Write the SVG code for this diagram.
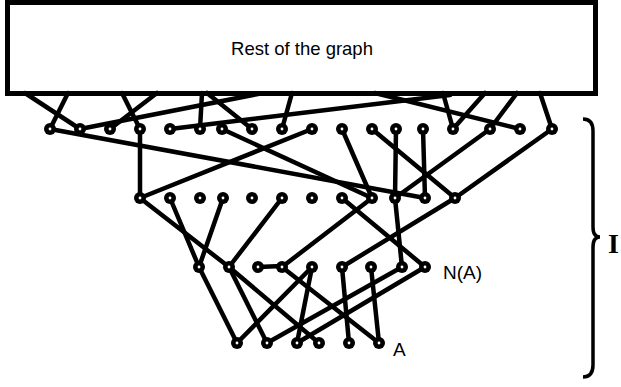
<svg xmlns="http://www.w3.org/2000/svg" width="621" height="387" viewBox="0 0 621 387">
<style>
.e{stroke:#000;stroke-width:4.5;stroke-linecap:round;fill:none}
.n{fill:#000}
.h{fill:#fff}
.lbl{font-family:"Liberation Sans",Arial,sans-serif;fill:#000}
</style>
<defs>
<g id="dot"><circle r="6" class="n"/><circle r="1.4" class="h"/></g>
</defs>
<rect id="rest" x="7.5" y="2.5" width="588" height="91" fill="#fff" stroke="#000" stroke-width="5"/>
<text class="lbl" x="302" y="55" font-size="18.5" text-anchor="middle">Rest of the graph</text>
<g id="connectors">
<line class="e" x1="25" y1="93" x2="80" y2="129"/>
<line class="e" x1="68" y1="93" x2="50" y2="129"/>
<line class="e" x1="122" y1="93" x2="140" y2="129"/>
<line class="e" x1="157" y1="93" x2="110" y2="129"/>
<line class="e" x1="202" y1="93" x2="200" y2="129"/>
<line class="e" x1="207" y1="93" x2="252" y2="129"/>
<line class="e" x1="292" y1="93" x2="282" y2="129"/>
<line class="e" x1="375" y1="93" x2="520" y2="129"/>
<line class="e" x1="443" y1="93" x2="453" y2="129"/>
<line class="e" x1="485" y1="93" x2="453" y2="129"/>
<line class="e" x1="517" y1="93" x2="490" y2="129"/>
<line class="e" x1="540" y1="93" x2="552" y2="129"/>
<line class="e" x1="80" y1="129" x2="258" y2="94"/>
<line class="e" x1="170" y1="129" x2="450" y2="95"/>
<line class="e" x1="50" y1="129" x2="425" y2="198"/>
<line class="e" x1="140" y1="129" x2="140" y2="198"/>
<line class="e" x1="222" y1="129" x2="372" y2="198"/>
<line class="e" x1="312" y1="129" x2="140" y2="198"/>
<line class="e" x1="342" y1="129" x2="372" y2="198"/>
<line class="e" x1="372" y1="129" x2="455" y2="198"/>
<line class="e" x1="396" y1="129" x2="395" y2="198"/>
<line class="e" x1="423" y1="129" x2="425" y2="198"/>
<line class="e" x1="490" y1="129" x2="395" y2="198"/>
<line class="e" x1="552" y1="129" x2="455" y2="198"/>
<line class="e" x1="140" y1="198" x2="229" y2="267"/>
<line class="e" x1="170" y1="198" x2="199" y2="267"/>
<line class="e" x1="223" y1="198" x2="199" y2="267"/>
<line class="e" x1="282" y1="198" x2="229" y2="267"/>
<line class="e" x1="342" y1="198" x2="425" y2="267"/>
<line class="e" x1="372" y1="198" x2="282" y2="267"/>
<line class="e" x1="395" y1="198" x2="402" y2="267"/>
<line class="e" x1="455" y1="198" x2="342" y2="267"/>
<line class="e" x1="258" y1="267" x2="282" y2="266"/>
<line class="e" x1="199" y1="267" x2="237" y2="343"/>
<line class="e" x1="229" y1="267" x2="267" y2="343"/>
<line class="e" x1="229" y1="267" x2="319" y2="343"/>
<line class="e" x1="282" y1="267" x2="379" y2="343"/>
<line class="e" x1="312" y1="267" x2="297" y2="343"/>
<line class="e" x1="342" y1="267" x2="349" y2="343"/>
<line class="e" x1="371" y1="267" x2="379" y2="343"/>
<line class="e" x1="402" y1="267" x2="267" y2="343"/>
<line class="e" x1="425" y1="267" x2="297" y2="343"/>
<line class="e" x1="312" y1="267" x2="237" y2="343"/>
</g>
<g id="row1">
<use href="#dot" x="50" y="129"/><use href="#dot" x="80" y="129"/><use href="#dot" x="110" y="129"/><use href="#dot" x="140" y="129"/><use href="#dot" x="170" y="129"/><use href="#dot" x="200" y="129"/><use href="#dot" x="222" y="129"/><use href="#dot" x="252" y="129"/><use href="#dot" x="282" y="129"/><use href="#dot" x="312" y="129"/><use href="#dot" x="342" y="129"/><use href="#dot" x="372" y="129"/><use href="#dot" x="396" y="129"/><use href="#dot" x="423" y="129"/><use href="#dot" x="453" y="129"/><use href="#dot" x="490" y="129"/><use href="#dot" x="520" y="129"/><use href="#dot" x="552" y="129"/>
</g>
<g id="row2">
<use href="#dot" x="140" y="198"/><use href="#dot" x="170" y="198"/><use href="#dot" x="200" y="198"/><use href="#dot" x="223" y="198"/><use href="#dot" x="252" y="198"/><use href="#dot" x="282" y="198"/><use href="#dot" x="312" y="198"/><use href="#dot" x="342" y="198"/><use href="#dot" x="372" y="198"/><use href="#dot" x="395" y="198"/><use href="#dot" x="425" y="198"/><use href="#dot" x="455" y="198"/>
</g>
<g id="row3">
<use href="#dot" x="199" y="267"/><use href="#dot" x="229" y="267"/><use href="#dot" x="258" y="267"/><use href="#dot" x="282" y="267"/><use href="#dot" x="312" y="267"/><use href="#dot" x="342" y="267"/><use href="#dot" x="371" y="267"/><use href="#dot" x="402" y="267"/><use href="#dot" x="425" y="267"/>
</g>
<g id="row4">
<use href="#dot" x="237" y="343"/><use href="#dot" x="267" y="343"/><use href="#dot" x="297" y="343"/><use href="#dot" x="319" y="343"/><use href="#dot" x="349" y="343"/><use href="#dot" x="379" y="343"/>
</g>
<g id="labels">
<text class="lbl" x="443" y="279" font-size="19">N(A)</text>
<text class="lbl" x="393" y="356" font-size="19">A</text>
</g>
<g id="brace">
<path d="M583,119 Q593,119 593,131 L593,227 Q593,237 600,237 Q593,237 593,247 L593,365 Q593,377 583,377" fill="none" stroke="#000" stroke-width="3.5"/>
<text x="608" y="253" font-family="'Liberation Serif','Times New Roman',serif" font-weight="bold" font-size="28">I</text>
</g>
</svg>
